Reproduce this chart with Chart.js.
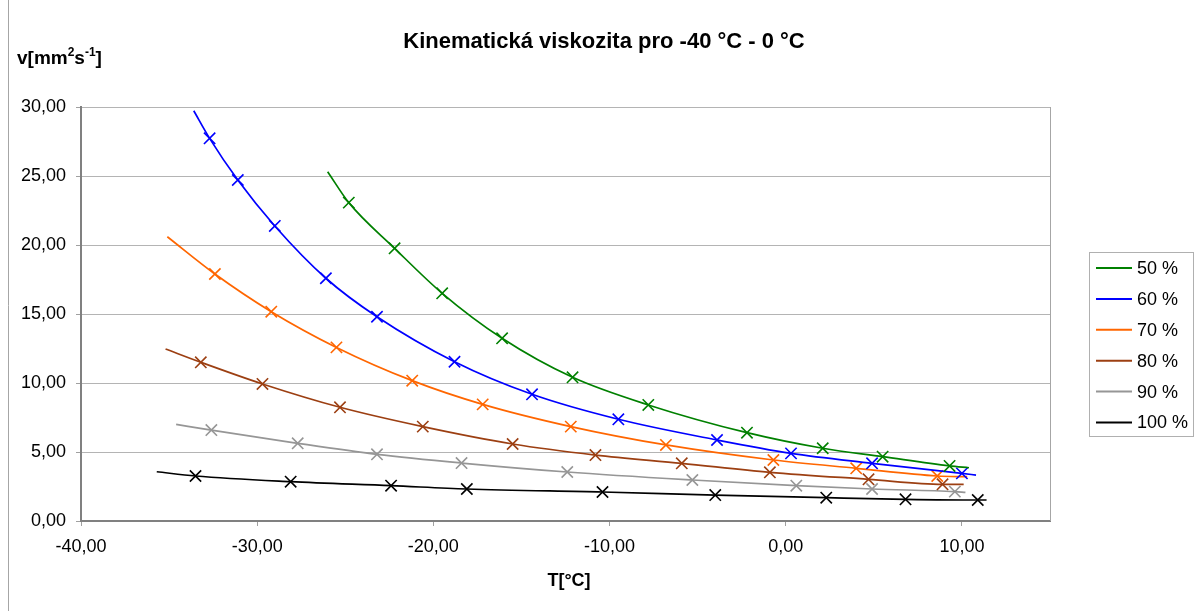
<!DOCTYPE html>
<html>
<head>
<meta charset="utf-8">
<script src="https://cdn.jsdelivr.net/npm/chart.js@4.4.1/dist/chart.umd.min.js"></script>
<style>
  html, body { margin: 0; padding: 0; background: #fff; }
  #wrap { width: 1197px; height: 611px; }
</style>
</head>
<body>
<div id="wrap"><canvas id="viscChart" width="1197" height="611"></canvas></div>
<script>
// Kinematic viscosity vs temperature
const seriesLabels = ['50 %', '60 %', '70 %', '80 %', '90 %', '100 %'];
const seriesColors = ['#008000', '#0000FF', '#FF6600', '#9C3F12', '#969696', '#000000'];

// marker points (T in °C, v in mm2/s)
const t50 = [-24.8, -22.2, -19.5, -16.1, -12.1, -7.8, -2.2, 2.1, 5.5, 9.3];
const v50 = [23.07, 19.76, 16.50, 13.24, 10.41, 8.41, 6.40, 5.27, 4.66, 3.99];
const t60 = [-32.7, -31.1, -29.0, -26.1, -23.2, -18.8, -14.4, -9.5, -3.9, 0.3, 4.9, 10.0];
const v60 = [27.73, 24.71, 21.38, 17.59, 14.80, 11.54, 9.18, 7.37, 5.87, 4.90, 4.18, 3.45];
const t70 = [-32.4, -29.2, -25.5, -21.2, -17.2, -12.2, -6.8, -0.7, 4.0, 8.6];
const v70 = [17.90, 15.17, 12.58, 10.17, 8.45, 6.84, 5.51, 4.42, 3.82, 3.26];
const t80 = [-33.2, -29.7, -25.3, -20.6, -15.5, -10.8, -5.9, -0.9, 4.7, 8.9];
const v80 = [11.50, 9.93, 8.24, 6.84, 5.58, 4.78, 4.18, 3.53, 3.02, 2.66];
const t90 = [-32.6, -27.7, -23.2, -18.4, -12.4, -5.3, 0.6, 4.9, 9.6];
const v90 = [6.59, 5.63, 4.83, 4.20, 3.55, 2.97, 2.56, 2.32, 2.13];
const t100 = [-33.5, -28.1, -22.4, -18.1, -10.4, -4.0, 2.3, 6.8, 10.9];
const v100 = [3.26, 2.85, 2.56, 2.32, 2.10, 1.88, 1.69, 1.57, 1.52];

// where each smoothed curve starts and ends (no marker there)
const ends50 = [[-26.0, 25.31], [10.4, 3.86]];
const ends60 = [[-33.6, 29.73], [10.8, 3.33]];
const ends70 = [[-35.1, 20.60], [10.3, 3.21]];
const ends80 = [[-35.2, 12.46], [10.1, 2.66]];
const ends90 = [[-34.6, 7.00], [10.2, 2.08]];
const ends100 = [[-35.7, 3.57], [11.4, 1.52]];

const xTicks = [-40, -30, -20, -10, 0, 10];

const allT = [t50, t60, t70, t80, t90, t100];
const allV = [v50, v60, v70, v80, v90, v100];
const allEnds = [ends50, ends60, ends70, ends80, ends90, ends100];

const FONT = 'Arial, "Liberation Sans", sans-serif';
const fmt = v => v.toFixed(2).replace('.', ',');

const datasets = seriesLabels.map((label, i) => {
    const pts = allT[i].map((t, k) => ({ x: t, y: allV[i][k] }));
    const data = [{ x: allEnds[i][0][0], y: allEnds[i][0][1] }, ...pts,
                  { x: allEnds[i][1][0], y: allEnds[i][1][1] }];
    return {
        label: label,
        data: data,
        showLine: true,
        borderColor: seriesColors[i],
        backgroundColor: seriesColors[i],
        borderWidth: 1.7,
        cubicInterpolationMode: 'monotone',
        pointStyle: 'crossRot',
        pointRadius: ctx => (ctx.dataIndex === 0 || ctx.dataIndex === data.length - 1) ? 0 : 8,
        pointBorderWidth: 1.6,
        pointBorderColor: seriesColors[i]
    };
});

// title, axis titles, frame and legend drawn by hand to sit like the original
const decorations = {
    id: 'decorations',
    beforeDatasetsDraw(chart) {
        const { ctx, chartArea: a } = chart;
        ctx.save();
        ctx.strokeStyle = '#a6a6a6';
        ctx.lineWidth = 1;
        ctx.beginPath();
        ctx.moveTo(a.right + 0.5, a.top);
        ctx.lineTo(a.right + 0.5, a.bottom);
        ctx.stroke();
        ctx.beginPath();
        ctx.moveTo(8.5, 0);
        ctx.lineTo(8.5, 611);
        ctx.stroke();
        ctx.restore();
    },
    afterDraw(chart) {
        const ctx = chart.ctx;
        ctx.save();
        ctx.fillStyle = '#000';
        ctx.textBaseline = 'alphabetic';

        ctx.font = 'bold 22px ' + FONT;
        ctx.textAlign = 'center';
        ctx.fillText('Kinematická viskozita pro -40 °C - 0 °C', 604, 48);

        ctx.font = 'bold 18px ' + FONT;
        ctx.fillText('T[°C]', 569, 586);

        // v[mm²s⁻¹] with real superscripts
        ctx.textAlign = 'left';
        let x = 17;
        const base = 64;
        const parts = [['v[mm', 0], ['2', 1], ['s', 0], ['-1', 1], [']', 0]];
        parts.forEach(([txt, sup]) => {
            ctx.font = sup ? 'bold 12px ' + FONT : 'bold 19px ' + FONT;
            ctx.fillText(txt, x, sup ? base - 8 : base);
            x += ctx.measureText(txt).width;
        });

        // legend
        ctx.strokeStyle = '#b0b0b0';
        ctx.lineWidth = 1;
        ctx.strokeRect(1089.5, 252.5, 104, 184);
        ctx.font = '18px ' + FONT;
        ctx.textBaseline = 'middle';
        chart.data.datasets.forEach((ds, i) => {
            const y = 268 + i * 30.9;
            ctx.strokeStyle = ds.borderColor;
            ctx.lineWidth = 2;
            ctx.beginPath();
            ctx.moveTo(1096, y);
            ctx.lineTo(1132, y);
            ctx.stroke();
            ctx.fillStyle = '#000';
            ctx.fillText(ds.label, 1137, y + 1);
        });
        ctx.restore();
    }
};

new Chart(document.getElementById('viscChart').getContext('2d'), {
    type: 'scatter',
    data: { datasets: datasets },
    options: {
        responsive: false,
        animation: false,
        layout: { padding: { top: 107, right: 147, left: 0, bottom: 0 } },
        plugins: {
            legend: { display: false },
            title: { display: false },
            tooltip: { enabled: false }
        },
        scales: {
            x: {
                type: 'linear',
                min: -40,
                max: 15,
                afterBuildTicks: scale => {
                    scale.ticks = xTicks.map(v => ({ value: v }));
                },
                afterFit: scale => { scale.height = 90; },
                ticks: {
                    callback: v => fmt(v),
                    font: { size: 18, family: FONT },
                    color: '#000',
                    padding: 10,
                    maxRotation: 0
                },
                grid: {
                    drawOnChartArea: false,
                    drawTicks: true,
                    tickLength: 5,
                    tickColor: '#a0a0a0'
                },
                border: { color: '#808080', width: 2 }
            },
            y: {
                min: 0,
                max: 30,
                ticks: {
                    stepSize: 5,
                    callback: v => fmt(v),
                    font: { size: 18, family: FONT },
                    color: '#000',
                    padding: 10
                },
                afterFit: scale => { scale.width = 81; },
                grid: {
                    color: '#b4b4b4',
                    lineWidth: 1,
                    tickLength: 5,
                    tickColor: '#a0a0a0'
                },
                border: { color: '#808080', width: 2 }
            }
        }
    },
    plugins: [decorations]
});
</script>
</body>
</html>
